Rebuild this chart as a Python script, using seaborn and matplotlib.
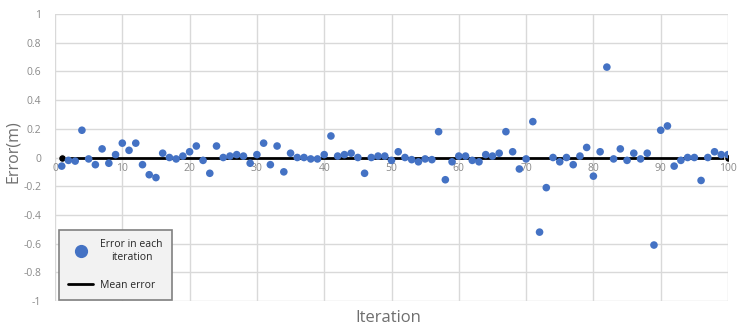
import matplotlib
matplotlib.use("Agg")
import matplotlib.pyplot as plt
import seaborn as sns
import numpy as np
import pandas as pd
from matplotlib.lines import Line2D

iterations = list(range(1, 101))
errors = [
    -0.06, -0.02, -0.025, 0.19, -0.01, -0.05, 0.06, -0.04, 0.02, 0.10,
    0.05, 0.10, -0.05, -0.12, -0.14, 0.03, 0.0, -0.01, 0.01, 0.04,
    0.08, -0.02, -0.11, 0.08, 0.0, 0.01, 0.02, 0.01, -0.04, 0.02,
    0.10, -0.05, 0.08, -0.10, 0.03, 0.0, 0.0, -0.01, -0.01, 0.02,
    0.15, 0.01, 0.02, 0.03, 0.0, -0.11, 0.0, 0.01, 0.01, -0.02,
    0.04, 0.0, -0.015, -0.03, -0.01, -0.015, 0.18, -0.155, -0.03, 0.01,
    0.01, -0.02, -0.03, 0.02, 0.01, 0.03, 0.18, 0.04, -0.08, -0.01,
    0.25, -0.52, -0.21, 0.0, -0.03, 0.0, -0.05, 0.01, 0.07, -0.13,
    0.04, 0.63, -0.01, 0.06, -0.02, 0.03, -0.01, 0.03, -0.61, 0.19,
    0.22, -0.06, -0.02, 0.0, 0.0, -0.16, 0.0, 0.04, 0.02, 0.02,
]
mean_x = [1, 100]
mean_y = [0.0, 0.0]
y_ticks = [1, 0.8, 0.6, 0.4, 0.2, 0, -0.2, -0.4, -0.6, -0.8, -1]
x_ticks = [0, 10, 20, 30, 40, 50, 60, 70, 80, 90, 100]

sns.set_style("white")
plt.rcParams['font.family'] = ['Open Sans', 'DejaVu Sans']

df = pd.DataFrame({"Iteration": iterations, "Error": errors})
mdf = pd.DataFrame({"x": mean_x, "y": mean_y})

fig = plt.figure(figsize=(7.37, 3.31), dpi=100)
ax = fig.add_axes([55 / 737, 1 - 301 / 331, (728 - 55) / 737, (301 - 14) / 331])

grid_c = "#d9d9d9"
ax.set_xlim(0, 100)
ax.set_ylim(-1, 1)
ax.set_xticks(x_ticks)
ax.set_yticks(y_ticks)
ax.grid(True, color=grid_c, linewidth=1.0)
ax.set_axisbelow(True)

sns.lineplot(data=mdf, x="x", y="y", ax=ax, color="black", linewidth=2,
             marker="o", markersize=5.5, zorder=2, legend=False)
sns.scatterplot(data=df, x="Iteration", y="Error", ax=ax, color="#4472C4",
                s=30, edgecolor="none", zorder=3, legend=False)

for s in ["top", "right", "left"]:
    ax.spines[s].set_visible(False)
ax.spines["bottom"].set_position(("data", 0))
ax.spines["bottom"].set_visible(False)

ax.tick_params(axis="both", length=0, colors="#8a8a8a", labelsize=7.5)
ax.tick_params(axis="x", pad=4)
ax.tick_params(axis="y", pad=10)
ax.set_yticklabels([("%g" % v) for v in y_ticks])
ax.set_xticklabels([str(v) for v in x_ticks])

ax.set_xlabel("")
ax.set_ylabel("")
fig.text(388 / 737, 1 - 318 / 331, "Iteration", ha="center", va="center",
         fontsize=12, color="#6f6f6f")
fig.text(13 / 737, 1 - 152 / 331, "Error(m)", ha="center", va="center",
         fontsize=11.5, color="#6f6f6f", rotation=90)

handles = [
    Line2D([], [], marker="o", linestyle="none", color="#4472C4",
           markersize=8.5, label="Error in each\niteration"),
    Line2D([], [], color="black", linewidth=2, label="Mean error"),
]
leg = ax.legend(handles=handles, loc="lower left", bbox_to_anchor=(0.004, 0.0),
                borderaxespad=0.1,
                fontsize=7.5, frameon=True, fancybox=False, framealpha=1,
                facecolor="#f2f2f2", edgecolor="#808080", handlelength=2.4,
                borderpad=0.9, labelspacing=1.6, handletextpad=0.7)
leg.get_frame().set_linewidth(1.2)
for t in leg.get_texts():
    t.set_multialignment("center")
    t.set_color("#262626")

fig.savefig("out.png", dpi=100)
